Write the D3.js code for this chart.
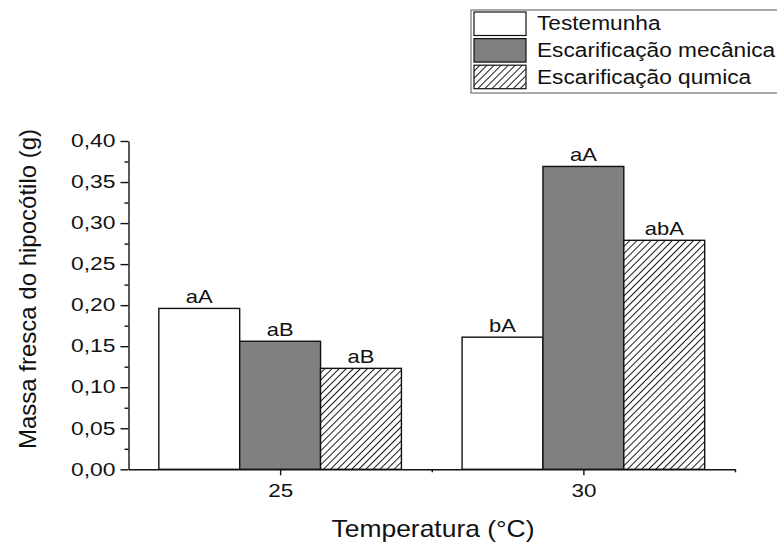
<!DOCTYPE html>
<html>
<head>
<meta charset="utf-8">
<script src="https://cdn.jsdelivr.net/npm/d3@7"></script>
<style>
  html, body { margin: 0; padding: 0; background: #fff; }
  svg { display: block; font-family: "Liberation Sans", Arial, sans-serif; }
</style>
</head>
<body>
<svg id="chart" width="777" height="543"></svg>
<script>
// Fresh hypocotyl mass by germination temperature and seed treatment
const temperatures = [25, 30];
const treatments = ["Testemunha", "Escarificação mecânica", "Escarificação qumica"];
const testemunha = [0.196, 0.161];
const mecanica = [0.156, 0.369];
const quimica = [0.123, 0.279];
const lettersTestemunha = ["aA", "bA"];
const lettersMecanica = ["aB", "aA"];
const lettersQuimica = ["aB", "abA"];
const yTicks = [0, 0.05, 0.10, 0.15, 0.20, 0.25, 0.30, 0.35, 0.40];
const yMinorTicks = [0.025, 0.075, 0.125, 0.175, 0.225, 0.275, 0.325, 0.375];
const xMinorTicks = [27.5, 32.5];

const series = [
  { name: treatments[0], values: testemunha, letters: lettersTestemunha, fill: "#ffffff" },
  { name: treatments[1], values: mecanica, letters: lettersMecanica, fill: "#808080" },
  { name: treatments[2], values: quimica, letters: lettersQuimica, fill: "url(#hatch)" }
];

const svg = d3.select("#chart");

// diagonal hatching for the chemical scarification bars
const defs = svg.append("defs");
defs.append("pattern")
  .attr("id", "hatch")
  .attr("patternUnits", "userSpaceOnUse")
  .attr("width", 5).attr("height", 5)
  .attr("patternTransform", "rotate(45)")
  .call(p => {
    p.append("rect").attr("width", 5).attr("height", 5).attr("fill", "#fff");
    p.append("line").attr("x1", 0.5).attr("y1", 0).attr("x2", 0.5).attr("y2", 5)
      .attr("stroke", "#1a1a1a").attr("stroke-width", 1);
  });

const x = d3.scaleLinear().domain([22.5, 32.5]).range([128.5, 735]);
const y = d3.scaleLinear().domain([0, 0.40]).range([469.3, 141]);

const groupWidth = 4.0;                 // in temperature units
const barWidth = groupWidth / series.length;

// horizontally stretched glyphs, as in the original export
function stretch(sel, sx) {
  sel.each(function () {
    const t = d3.select(this);
    const x0 = +t.attr("x") || 0;
    t.attr("x", x0 / sx).attr("transform", `scale(${sx},1)`);
  });
}

// bars
series.forEach((s, si) => {
  const g = svg.append("g");
  temperatures.forEach((temp, ti) => {
    const x0 = temp - groupWidth / 2 + si * barWidth;
    g.append("rect")
      .attr("x", x(x0))
      .attr("y", y(s.values[ti]))
      .attr("width", x(x0 + barWidth) - x(x0))
      .attr("height", y(0) - y(s.values[ti]))
      .attr("fill", s.fill)
      .attr("stroke", "#111")
      .attr("stroke-width", 1.4);
    g.append("g")
      .attr("transform", `translate(${x(x0 + barWidth / 2)},${y(s.values[ti]) - 5})`)
      .append("text")
      .attr("text-anchor", "middle")
      .attr("font-size", 18)
      .attr("fill", "#111")
      .text(s.letters[ti])
      .attr("transform", "scale(1.22,1)");
  });
});

const fmt = v => d3.format(".2f")(v).replace(".", ",");

// y axis
const yAxis = svg.append("g")
  .attr("transform", `translate(${x(22.5)},0)`)
  .call(d3.axisLeft(y).tickValues(yTicks).tickFormat(fmt).tickSize(8).tickSizeOuter(0).tickPadding(5));
yAxis.append("g").call(d3.axisLeft(y).tickValues(yMinorTicks).tickFormat("").tickSize(4).tickSizeOuter(0))
  .select(".domain").remove();

// x axis
const xAxis = svg.append("g")
  .attr("transform", `translate(0,${y(0)})`)
  .call(d3.axisBottom(x).tickValues(temperatures).tickFormat(d3.format("d")).tickSize(6).tickSizeOuter(0).tickPadding(8));
xAxis.append("g").call(d3.axisBottom(x).tickValues(xMinorTicks).tickFormat("").tickSize(3).tickSizeOuter(0))
  .select(".domain").remove();

svg.selectAll(".domain, .tick line").attr("stroke", "#111").attr("stroke-width", 1.4);
yAxis.selectAll(".tick text").attr("font-size", 18).attr("fill", "#111").attr("font-family", null).call(stretch, 1.27);
xAxis.selectAll(".tick text").attr("font-size", 19).attr("fill", "#111").attr("font-family", null).call(stretch, 1.18);

// axis titles
svg.append("g").attr("transform", "translate(433,537)")
  .append("text").attr("text-anchor", "middle").attr("font-size", 23).attr("fill", "#111")
  .attr("transform", "scale(1.15,1)").text("Temperatura (°C)");

svg.append("g").attr("transform", "translate(36,289) rotate(-90)")
  .append("text").attr("text-anchor", "middle").attr("font-size", 24).attr("fill", "#111")
  .text("Massa fresca do hipocótilo (g)");

// legend
const legend = svg.append("g");
legend.append("rect")
  .attr("x", 471).attr("y", 10).attr("width", 320).attr("height", 83)
  .attr("fill", "#fff").attr("stroke", "#555").attr("stroke-width", 1);
series.forEach((s, i) => {
  legend.append("rect")
    .attr("x", 474).attr("y", 12 + i * 26.6).attr("width", 52).attr("height", 23.5)
    .attr("fill", s.fill).attr("stroke", "#111").attr("stroke-width", 1.2);
  legend.append("g").attr("transform", `translate(537,${30 + i * 27})`)
    .append("text").attr("font-size", 21).attr("fill", "#111")
    .attr("transform", "scale(1.08,1)").text(s.name);
});
</script>
</body>
</html>
